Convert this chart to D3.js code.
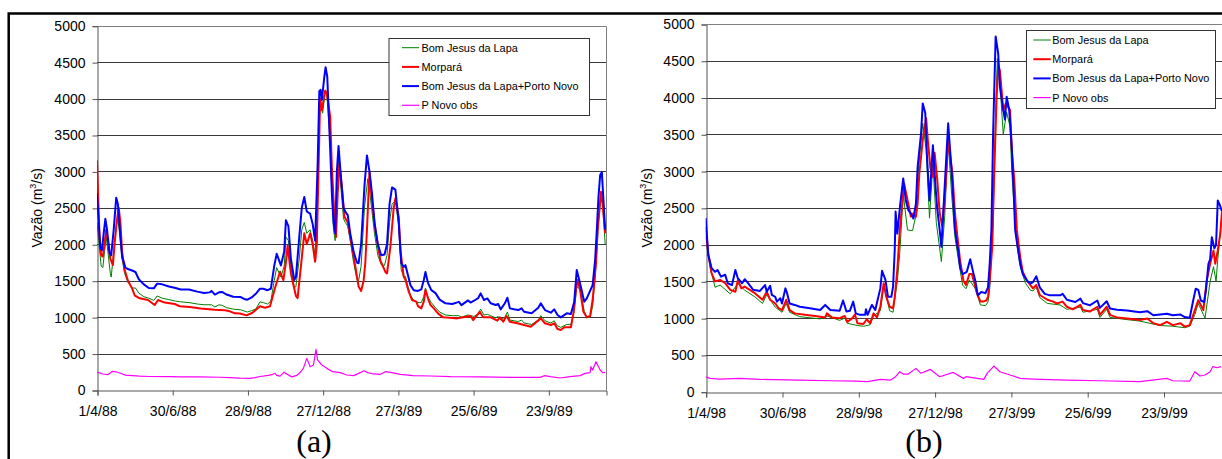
<!DOCTYPE html>
<html>
<head>
<meta charset="utf-8">
<script src="https://cdn.jsdelivr.net/npm/d3@7"></script>
<style>
  body { margin: 0; background: #fff; }
  svg { display: block; }
  text { fill: #000; }
</style>
</head>
<body>
<svg id="fig" width="1222" height="459"></svg>
<script>
// ---------- data: daily discharge (m3/s), [day offset from 1 April, value] ----------
const seriesNames = ["Bom Jesus da Lapa", "Morpará", "Bom Jesus da Lapa+Porto Novo", "P Novo obs"];

const tickDays = [0, 90, 180, 270, 360, 450, 540];
const tickLabelsA = ["1/4/88", "30/6/88", "28/9/88", "27/12/88", "27/3/89", "25/6/89", "23/9/89"];
const tickLabelsB = ["1/4/98", "30/6/98", "28/9/98", "27/12/98", "27/3/99", "25/6/99", "23/9/99"];
const yTicks = [0, 500, 1000, 1500, 2000, 2500, 3000, 3500, 4000, 4500, 5000];

// (a) 1988-89
const bjlA = [[0,2300],[2,2050],[5,1700],[7,1680],[9,1900],[11,2100],[13,1900],[16,1600],[17,1550],[20,1900],[23,2250],[25,2350],[27,2150],[30,1800],[33,1600],[37,1480],[42,1400],[46,1400],[50,1330],[56,1280],[62,1260],[68,1230],[72,1290],[78,1260],[86,1240],[94,1220],[100,1210],[110,1200],[120,1180],[128,1170],[137,1170],[141,1140],[146,1170],[150,1160],[155,1130],[163,1110],[172,1100],[180,1070],[185,1090],[190,1110],[195,1210],[199,1200],[204,1180],[208,1220],[212,1500],[215,1680],[220,1550],[224,1700],[226,2100],[229,2050],[232,1700],[236,1400],[238,1420],[242,1800],[245,2200],[248,2300],[251,2150],[255,2200],[258,2050],[261,1850],[264,2800],[266,3800],[268,3900],[270,3800],[273,4100],[275,4050],[279,3400],[281,2700],[283,2200],[285,2050],[287,2800],[289,3150],[292,2750],[295,2350],[297,2300],[300,2250],[303,2050],[307,1750],[311,1520],[313,1500],[316,1700],[320,2500],[324,2900],[326,2750],[329,2450],[332,2150],[336,1850],[340,1720],[344,1710],[347,1850],[350,2300],[353,2550],[357,2600],[361,2250],[364,1650],[367,1550],[369,1560],[372,1420],[375,1300],[379,1230],[384,1200],[388,1200],[391,1280],[393,1400],[396,1270],[400,1200],[405,1130],[410,1070],[417,1030],[425,1020],[433,1020],[436,1000],[444,1030],[447,1020],[451,1010],[456,1040],[459,1110],[463,1030],[467,1040],[471,1020],[477,990],[480,1010],[483,960],[488,1000],[491,1070],[494,960],[499,950],[504,940],[508,960],[511,920],[520,900],[528,960],[531,1020],[536,950],[543,920],[547,950],[551,880],[555,860],[562,900],[567,900],[571,1080],[574,1420],[578,1380],[583,1080],[586,1000],[590,1000],[593,1150],[596,1550],[598,1900],[600,2300],[603,2650],[605,2550],[608,2000]];

const morA = [[0,3150],[1,2800],[3,2100],[5,1850],[7,1830],[9,2000],[11,2200],[13,2050],[16,1800],[19,1714],[21,2000],[24,2350],[26,2500],[28,2300],[30,1900],[33,1650],[37,1500],[42,1395],[45,1300],[51,1258],[61,1235],[69,1166],[73,1235],[81,1200],[93,1180],[99,1150],[111,1140],[124,1120],[141,1100],[153,1095],[159,1080],[165,1052],[171,1050],[179,1024],[186,1060],[195,1150],[201,1130],[207,1150],[213,1400],[219,1623],[223,1509],[226,1750],[228,1980],[232,1600],[238,1290],[240,1260],[244,1700],[248,2150],[251,2000],[255,2150],[258,2000],[261,1760],[263,2000],[265,3000],[267,4000],[269,3840],[273,4110],[275,4070],[279,3750],[281,3060],[284,2400],[286,2100],[288,2700],[290,3110],[293,2790],[296,2380],[300,2300],[303,2100],[309,1700],[313,1420],[316,1360],[319,1500],[321,1740],[323,2200],[326,2990],[329,2600],[333,2200],[339,1780],[345,1620],[347,1600],[351,1966],[355,2500],[357,2630],[361,2380],[363,1920],[367,1554],[369,1513],[373,1350],[377,1235],[382,1212],[384,1152],[388,1120],[391,1212],[393,1372],[397,1225],[399,1166],[403,1120],[408,1052],[414,997],[422,992],[431,983],[438,997],[447,1015],[450,960],[458,1074],[462,997],[471,997],[479,951],[482,997],[486,938],[490,1015],[494,938],[503,915],[511,892],[519,869],[531,983],[536,915],[543,892],[547,915],[551,837],[555,823],[559,860],[567,860],[570,1052],[573,1372],[575,1509],[578,1372],[582,1074],[586,997],[590,1015],[593,1235],[597,1738],[599,2195],[603,2720],[605,2550],[608,2150]];

const bjlpnA = [[0,2700],[2,2300],[4,1950],[6,1920],[8,2150],[10,2350],[12,2200],[15,1880],[17,1850],[20,2200],[23,2640],[25,2550],[27,2250],[30,1830],[34,1680],[37,1660],[42,1640],[46,1620],[50,1520],[56,1450],[62,1400],[68,1395],[72,1460],[78,1450],[86,1420],[94,1400],[100,1380],[110,1380],[120,1350],[128,1330],[135,1340],[137,1360],[141,1310],[146,1340],[150,1345],[155,1310],[163,1280],[172,1275],[176,1250],[180,1240],[185,1270],[190,1320],[195,1390],[199,1390],[204,1370],[208,1390],[212,1700],[215,1870],[220,1710],[224,1900],[226,2330],[229,2250],[232,1800],[236,1510],[238,1550],[242,2100],[245,2500],[248,2650],[251,2450],[255,2420],[258,2280],[261,2050],[264,3100],[266,4100],[267.5,4120],[269,3980],[272,4300],[273.5,4430],[275.5,4300],[279,3300],[281,2700],[283,2300],[285,2150],[287,3000],[289,3350],[292,2900],[295,2500],[297,2450],[300,2400],[303,2150],[307,1900],[311,1750],[313,1740],[316,2000],[320,2800],[323,3220],[326,3000],[329,2700],[332,2300],[336,2000],[340,1850],[344,1860],[347,2000],[350,2550],[353,2780],[357,2750],[361,2300],[364,1740],[367,1690],[369,1714],[372,1580],[375,1440],[379,1370],[384,1360],[388,1380],[391,1510],[393,1620],[396,1470],[400,1370],[405,1330],[410,1240],[417,1190],[425,1180],[433,1210],[436,1165],[444,1230],[447,1200],[451,1225],[456,1260],[459,1326],[463,1235],[467,1257],[471,1190],[477,1166],[480,1180],[483,1107],[488,1190],[491,1267],[494,1120],[499,1107],[504,1097],[508,1120],[511,1074],[520,1052],[528,1130],[531,1189],[536,1097],[543,1061],[547,1107],[551,1029],[555,997],[562,1052],[567,1043],[571,1212],[574,1646],[578,1463],[583,1212],[586,1257],[593,1440],[596,1783],[598,2195],[600,2650],[602,2950],[604,2990],[606,2600],[608,2200]];

const pnA = [[0,245],[7,220],[13,210],[18,255],[23,250],[28,230],[34,205],[51,190],[63,185],[87,183],[99,180],[123,180],[147,175],[159,170],[171,162],[183,160],[189,170],[195,185],[205,200],[209,210],[213,230],[215,200],[219,190],[224,245],[227,220],[233,180],[239,200],[243,240],[247,300],[251,434],[255,320],[259,343],[262,558],[264,411],[269,343],[275,297],[282,251],[291,238],[299,206],[307,197],[315,238],[319,265],[324,238],[331,220],[339,215],[345,251],[351,242],[363,215],[378,197],[399,192],[423,183],[459,179],[494,174],[530,174],[536,197],[542,183],[554,165],[566,183],[578,197],[584,228],[590,238],[591,320],[593,274],[597,388],[602,274],[605,238],[608,242]];

// (b) 1998-99
const bjlB = [[0,2100],[5,1700],[11,1420],[17,1450],[29,1330],[38,1470],[46,1380],[58,1290],[67,1200],[72,1320],[82,1150],[90,1080],[95,1200],[99,1080],[111,1020],[135,990],[143,1030],[158,970],[164,1000],[167,930],[179,900],[186,890],[194,910],[198,1030],[206,1100],[210,1440],[217,1100],[221,1080],[223,1250],[226,1500],[229,1900],[233,2690],[238,2200],[244,2190],[248,2400],[250,2900],[256,3650],[260,3300],[264,2360],[268,3100],[272,2300],[278,1770],[282,2400],[286,3400],[290,2700],[294,2100],[298,1800],[303,1450],[307,1400],[311,1520],[318,1400],[324,1180],[330,1170],[333,1220],[335,1400],[339,2300],[342,3800],[344,4530],[347,4200],[351,3500],[355,3800],[359,3600],[361,3000],[365,2300],[367,2000],[371,1700],[377,1480],[383,1380],[386,1370],[390,1420],[394,1280],[403,1200],[418,1180],[426,1120],[442,1150],[445,1080],[462,1120],[465,1010],[473,1120],[477,1010],[497,980],[512,960],[536,900],[551,890],[565,870],[571,890],[577,1050],[581,1200],[587,1050],[589,1000],[595,1500],[599,1700],[602,1500],[604,1800],[608,2300]];

const morB = [[0,2240],[3,1880],[7,1610],[11,1500],[17,1520],[23,1475],[29,1385],[35,1360],[38,1520],[42,1405],[46,1430],[52,1385],[58,1340],[67,1250],[72,1360],[76,1250],[82,1200],[86,1135],[90,1110],[95,1250],[99,1110],[105,1065],[117,1045],[129,1030],[141,1010],[143,1065],[149,1010],[158,1000],[164,1030],[167,950],[173,1000],[176,1050],[179,930],[186,920],[190,985],[194,930],[198,1065],[202,1010],[206,1155],[210,1475],[213,1290],[217,1155],[221,1135],[223,1290],[226,1655],[229,2200],[234,2830],[239,2555],[242,2380],[245,2425],[248,2380],[250,2560],[252,2970],[256,3420],[260,3720],[262,3420],[265,3050],[268,2920],[270,3250],[273,2900],[276,2430],[279,2250],[283,2800],[286,3420],[291,2970],[294,2430],[297,2100],[300,1790],[304,1510],[307,1450],[311,1600],[314,1600],[317,1470],[320,1340],[324,1225],[327,1225],[331,1240],[333,1290],[335,1510],[338,1970],[340,2850],[343,3960],[345,4440],[347,4370],[351,3830],[354,3920],[359,3830],[361,3290],[364,2880],[367,2200],[371,1830],[374,1630],[379,1510],[383,1450],[386,1405],[390,1450],[394,1315],[403,1250],[410,1225],[414,1200],[421,1225],[426,1155],[433,1120],[442,1180],[445,1110],[453,1090],[462,1155],[465,1045],[473,1155],[477,1045],[485,1010],[497,995],[512,975],[521,995],[528,930],[536,905],[544,950],[551,905],[560,930],[565,885],[571,905],[577,1110],[581,1245],[587,1110],[591,1510],[595,1740],[599,1920],[601,1740],[604,1920],[607,2150],[609,2450]];

const bjlpnB = [[0,2360],[3,1860],[5,1770],[7,1680],[11,1630],[14,1655],[18,1565],[23,1590],[26,1475],[31,1450],[35,1655],[38,1540],[43,1475],[46,1530],[50,1475],[56,1385],[64,1370],[70,1450],[72,1360],[76,1440],[78,1315],[82,1290],[84,1225],[88,1270],[90,1200],[94,1405],[96,1340],[99,1200],[105,1180],[111,1155],[123,1135],[135,1110],[141,1180],[147,1110],[158,1100],[162,1240],[166,1090],[170,1100],[174,1225],[177,1065],[182,1045],[188,1045],[189,1120],[191,1045],[196,1180],[200,1110],[206,1405],[208,1645],[212,1520],[215,1290],[219,1290],[221,1430],[223,1930],[224,2450],[226,2150],[229,2500],[233,2900],[236,2600],[239,2470],[242,2425],[245,2355],[248,2560],[250,3060],[254,3510],[256,3920],[259,3790],[261,3200],[264,2600],[268,3350],[271,2800],[273,2500],[276,2200],[278,1970],[281,2600],[286,3650],[290,3010],[294,2200],[298,1900],[300,1690],[303,1600],[308,1630],[312,1800],[315,1650],[318,1510],[321,1310],[325,1355],[330,1340],[333,1420],[335,1740],[337,2200],[339,3500],[342,4830],[345,4600],[347,4150],[351,3830],[353,3700],[355,4010],[358,3830],[361,3340],[363,2790],[365,2200],[367,2040],[371,1740],[374,1600],[379,1510],[383,1470],[386,1490],[390,1570],[394,1420],[400,1330],[406,1310],[418,1310],[421,1330],[426,1250],[436,1220],[442,1265],[445,1205],[453,1175],[462,1240],[465,1140],[473,1230],[477,1130],[485,1115],[497,1105],[512,1080],[521,1095],[528,1040],[544,1060],[551,1040],[560,1050],[565,1015],[571,1005],[575,1240],[578,1400],[581,1385],[584,1240],[588,1220],[590,1375],[593,1740],[595,1800],[597,2100],[600,1950],[602,2000],[604,2600],[606,2550],[609,2450]];

const pnB = [[0,204],[5,181],[17,172],[40,181],[64,167],[111,158],[147,149],[176,145],[191,136],[206,167],[218,158],[224,204],[229,272],[233,240],[239,240],[248,317],[254,250],[265,303],[276,204],[292,262],[304,181],[307,204],[328,167],[332,249],[340,349],[347,272],[359,227],[371,181],[386,172],[426,158],[465,149],[512,136],[544,181],[551,149],[571,145],[577,272],[583,213],[589,227],[595,272],[598,340],[603,326],[608,340]];

// ---------- drawing ----------
const SANS = "Arial, 'Liberation Sans', sans-serif";
const SERIF = "'Liberation Serif', 'Times New Roman', serif";

const lineStyles = [
  { color: "#008000", width: 1 },
  { color: "#ff0000", width: 2 },
  { color: "#0000ff", width: 2 },
  { color: "#ff00ff", width: 1.2 }
];

const svg = d3.select("#fig");

// outer frame (top and left rules)
svg.append("path")
  .attr("d", "M8.7,459 V13.5 H1222")
  .attr("fill", "none")
  .attr("stroke", "#000")
  .attr("stroke-width", 2.5);

function drawPanel(cfg) {
  const x = d3.scaleLinear().domain([0, 609]).range([cfg.left, cfg.right]);
  const y = d3.scaleLinear().domain([0, 5000]).range([cfg.bottom, cfg.top]);
  const g = svg.append("g");
  const crisp = v => Math.round(v) + 0.5;

  // horizontal gridlines
  g.append("g").selectAll("line")
    .data(yTicks.filter(t => t > 0 && t < 5000))
    .join("line")
    .attr("x1", cfg.left).attr("x2", cfg.right)
    .attr("y1", d => crisp(y(d))).attr("y2", d => crisp(y(d)))
    .attr("stroke", "#3a3a3a").attr("stroke-width", 1);

  // plot area border (top and right)
  g.append("path")
    .attr("d", `M${crisp(cfg.left)},${crisp(y(5000))} H${crisp(cfg.right)} V${crisp(y(0))}`)
    .attr("fill", "none").attr("stroke", "#808080").attr("stroke-width", 1);

  // y axis
  const yAxis = d3.axisLeft(y).tickValues(yTicks).tickSize(5).tickPadding(7).tickFormat(d3.format("d"));
  const ya = g.append("g").attr("transform", `translate(${crisp(cfg.left)},0.5)`).call(yAxis);
  ya.select(".domain").attr("stroke", "#555");
  ya.selectAll(".tick line").attr("stroke", "#555");
  ya.selectAll(".tick text").style("font-size", "14px").style("font-family", SANS).attr("fill", "#000");

  // x axis
  const xAxis = d3.axisBottom(x).tickValues(tickDays).tickSize(5).tickPadding(11)
    .tickFormat((d, i) => cfg.tickLabels[i]);
  const xa = g.append("g").attr("transform", `translate(0.5,${crisp(cfg.bottom)})`).call(xAxis);
  xa.select(".domain").attr("stroke", "#555");
  xa.selectAll(".tick line").attr("stroke", "#555");
  xa.selectAll(".tick text").style("font-size", "14px").style("font-family", SANS).attr("fill", "#000");

  // y axis title
  const title = g.append("text")
    .attr("transform", `translate(${cfg.titleX},${(cfg.top + cfg.bottom) / 2}) rotate(-90)`)
    .attr("text-anchor", "middle")
    .style("font-family", SANS)
    .style("font-size", "14px");
  title.append("tspan").text("Vazão (m");
  title.append("tspan").style("font-size", "9px").attr("dy", -6).text("3");
  title.append("tspan").attr("dy", 6).text("/s)");

  // series
  const clipId = "clip" + cfg.id;
  svg.append("clipPath").attr("id", clipId).append("rect")
    .attr("x", cfg.left).attr("y", cfg.top - 2)
    .attr("width", cfg.right - cfg.left).attr("height", cfg.bottom - cfg.top + 2);
  const line = d3.line().x(d => x(d[0])).y(d => y(d[1]));
  const lg = g.append("g").attr("clip-path", `url(#${clipId})`);
  cfg.series.forEach((s, i) => {
    lg.append("path")
      .datum(s)
      .attr("d", line)
      .attr("fill", "none")
      .attr("stroke", lineStyles[i].color)
      .attr("stroke-width", lineStyles[i].width)
      .attr("stroke-linejoin", "round");
  });

  // legend
  const L = cfg.legend;
  const leg = g.append("g");
  leg.append("rect")
    .attr("x", L.x + 0.5).attr("y", L.y + 0.5)
    .attr("width", L.w).attr("height", L.h)
    .attr("fill", "#fff").attr("stroke", "#333").attr("stroke-width", 1);
  seriesNames.forEach((name, i) => {
    const ry = L.y + L.first + i * L.step;
    leg.append("line")
      .attr("x1", L.x + L.lineFrom).attr("x2", L.x + L.lineTo)
      .attr("y1", ry).attr("y2", ry)
      .attr("stroke", lineStyles[i].color)
      .attr("stroke-width", lineStyles[i].width);
    leg.append("text")
      .attr("x", L.x + L.textAt).attr("y", ry).attr("dy", "0.36em")
      .style("font-family", SANS).style("font-size", "10.9px")
      .attr("fill", "#222")
      .text(name);
  });

  // panel caption
  svg.append("text")
    .attr("x", cfg.captionX).attr("y", 451.5)
    .attr("text-anchor", "middle")
    .style("font-family", SERIF)
    .style("font-size", "32px")
    .text(cfg.caption);
}

drawPanel({
  id: "A", left: 97, right: 606, top: 25.7, bottom: 390, titleX: 41.5,
  tickLabels: tickLabelsA,
  series: [bjlA, morA, bjlpnA, pnA],
  legend: { x: 388.5, y: 38, w: 200.5, h: 77, first: 9.7, step: 19.2, lineFrom: 13.5, lineTo: 30.5, textAt: 33 },
  caption: "(a)", captionX: 314
});

drawPanel({
  id: "B", left: 705.7, right: 1222, top: 24, bottom: 391.7, titleX: 651.5,
  tickLabels: tickLabelsB,
  series: [bjlB, morB, bjlpnB, pnB],
  legend: { x: 1026, y: 30, w: 189, h: 78, first: 10, step: 19.2, lineFrom: 7.3, lineTo: 24.7, textAt: 26.3 },
  caption: "(b)", captionX: 924
});
</script>
</body>
</html>
